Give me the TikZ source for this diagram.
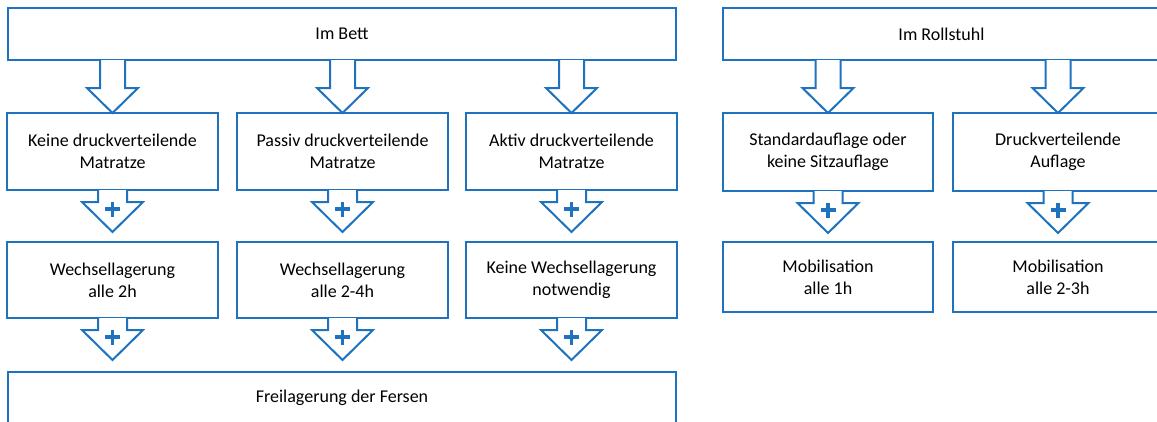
\documentclass[tikz,border=0pt]{standalone}
\usepackage{fontspec}
\setmainfont{Carlito}
\usetikzlibrary{calc}

\definecolor{sablue}{RGB}{30,114,190}

% hollow block arrow from box #1 down to box #2
\newcommand{\blockarrow}[2]{%
  \draw[arrowline] let \p1=(#1.south), \p2=(#2.north) in
    (\x2-12.5,\y1) -- (\x2-12.5,\y2+25) -- (\x2-25.5,\y2+25) -- (\x2,\y2)
    -- (\x2+25.5,\y2+25) -- (\x2+12.5,\y2+25) -- (\x2+12.5,\y1);}
% hollow arrow with a plus, hanging below box #1, pointing at box #2
\newcommand{\plusarrow}[2]{%
  \draw[arrowline] let \p1=(#1.south), \p2=(#2.north) in
    (\x2-14.5,\y1) -- (\x2-14.5,\y1-12) -- (\x2-30.5,\y1-12) -- (\x2,\y1-42)
    -- (\x2+30.5,\y1-12) -- (\x2+14.5,\y1-12) -- (\x2+14.5,\y1)
    coordinate (p#1) at (\x2,\y1-19);
  \draw[plusline] ($(p#1)+(-7.5,0)$) -- ($(p#1)+(7.5,0)$)
    ($(p#1)+(0,-7.5)$) -- ($(p#1)+(0,7.5)$);}

\begin{document}
\begin{tikzpicture}[x=1pt,y=1pt,
    box/.style={draw=sablue,line width=2pt,fill=white,outer sep=0pt,
      minimum width=211pt,align=center,text=black,
      font=\fontsize{18}{22}\selectfont},
    wide/.style={box,minimum width=668pt,minimum height=52pt},
    arrowline/.style={draw=sablue,line width=2pt,fill=white},
    plusline/.style={draw=sablue,line width=3.8pt}]
  \useasboundingbox (0,0) rectangle (1157,-421);
  \clip (0,0) rectangle (1157,-421);

  % bed
  \node[wide] (bett) at (342,-34) {Im Bett};
  \node[box,minimum height=77pt] (keine)  at (112.5,-151.5) {Keine druckverteilende\\Matratze};
  \node[box,minimum height=77pt] (passiv) at (342.5,-151.5) {Passiv druckverteilende\\Matratze};
  \node[box,minimum height=77pt] (aktiv)  at (571.5,-151.5) {Aktiv druckverteilende\\Matratze};
  \node[box,minimum height=76pt] (wl2)  at (112.5,-280) {Wechsellagerung\\alle 2h};
  \node[box,minimum height=76pt] (wl24) at (342.5,-280) {Wechsellagerung\\alle 2-4h};
  \node[box,minimum height=76pt] (keinwl) at (571.5,-280) {Keine Wechsellagerung\\notwendig};
  \node[wide] (fersen) at (342,-398) {Freilagerung der Fersen};

  % wheelchair
  \node[box,minimum width=437pt,minimum height=52pt] (roll) at (941.5,-34) {Im Rollstuhl};
  \node[box,minimum width=210pt,minimum height=78pt] (standard) at (828,-152) {Standardauflage oder\\keine Sitzauflage};
  \node[box,minimum width=210pt,minimum height=78pt] (druck) at (1058,-152) {Druckverteilende\\Auflage};
  \node[box,minimum width=210pt,minimum height=70pt] (mob1)  at (828,-277) {Mobilisation\\alle 1h};
  \node[box,minimum width=210pt,minimum height=70pt] (mob23) at (1058,-277) {Mobilisation\\alle 2-3h};

  \blockarrow{bett}{keine}
  \blockarrow{bett}{passiv}
  \blockarrow{bett}{aktiv}
  \blockarrow{roll}{standard}
  \blockarrow{roll}{druck}

  \plusarrow{keine}{wl2}
  \plusarrow{passiv}{wl24}
  \plusarrow{aktiv}{keinwl}
  \plusarrow{wl2}{fersen.north -| wl2}
  \plusarrow{wl24}{fersen.north -| wl24}
  \plusarrow{keinwl}{fersen.north -| keinwl}
  \plusarrow{standard}{mob1}
  \plusarrow{druck}{mob23}
\end{tikzpicture}
\end{document}
